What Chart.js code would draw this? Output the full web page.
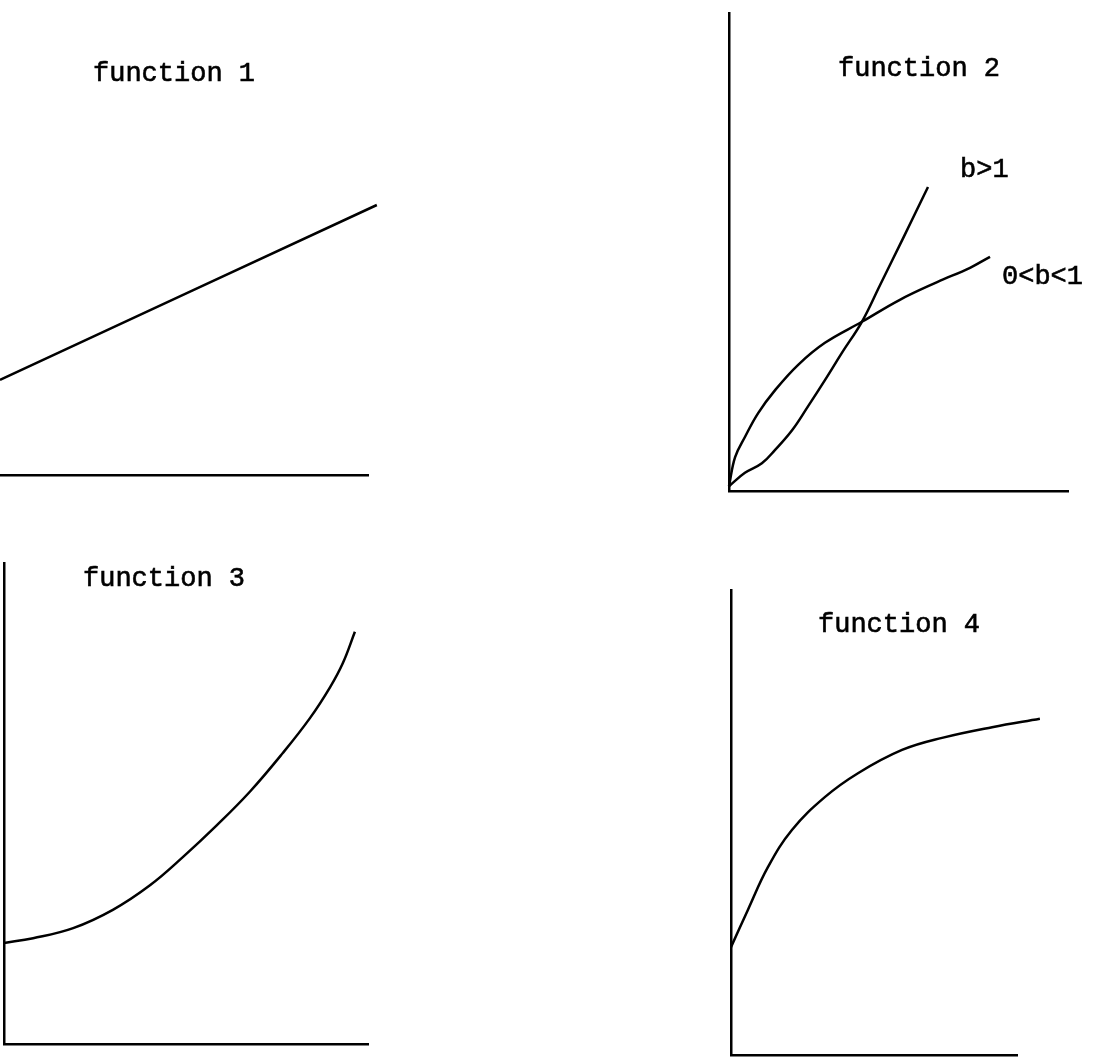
<!DOCTYPE html>
<html>
<head>
<meta charset="utf-8">
<title>functions</title>
<script src="https://cdn.jsdelivr.net/npm/chart.js@4.4.1/dist/chart.umd.min.js"></script>
<style>
  html, body { margin: 0; padding: 0; background: #fff; }
  #page { position: relative; width: 1107px; height: 1064px; overflow: hidden; }
  #page canvas { position: absolute; left: 0; top: 0; }
  .lbl { position: absolute; font-family: "Liberation Mono", monospace; font-size: 27px; line-height: 27px; color: #000; white-space: pre; -webkit-text-stroke: 0.6px #000; }
</style>
</head>
<body>
<div id="page">
  <canvas id="c1" width="1107" height="1064"></canvas>
  <canvas id="c2" width="1107" height="1064"></canvas>
  <canvas id="c3" width="1107" height="1064"></canvas>
  <canvas id="c4" width="1107" height="1064"></canvas>
  <div class="lbl" style="left:93px;top:61px">function 1</div>
  <div class="lbl" style="left:838px;top:56px">function 2</div>
  <div class="lbl" style="left:83px;top:566px">function 3</div>
  <div class="lbl" style="left:818px;top:612px">function 4</div>
  <div class="lbl" style="left:960px;top:157px">b&gt;1</div>
  <div class="lbl" style="left:1002px;top:264px">0&lt;b&lt;1</div>
</div>
<script>
// all panels use 0..10 on both axes (no ticks shown)

// function 1: straight line
const f1X = [0, 10.24];
const f1Y = [2.64, 7.5];

// function 2: b>1 curve
const f2aX = [0, 0.47, 0.97, 1.36, 1.86, 2.33, 2.83, 3.33, 3.92, 4.45, 5.13, 5.87];
const f2aY = [0.1, 0.38, 0.58, 0.86, 1.27, 1.77, 2.32, 2.89, 3.54, 4.30, 5.28, 6.36];

// function 2: 0<b<1 curve
const f2bX = [0, 0.18, 0.47, 0.86, 1.36, 2.04, 2.83, 3.92, 5.04, 6.14, 7.11, 7.70];
const f2bY = [0.1, 0.71, 1.13, 1.63, 2.11, 2.64, 3.10, 3.54, 4.00, 4.37, 4.67, 4.90];

// function 3
const f3X = [0, 0.80, 1.90, 2.99, 4.01, 4.92, 5.85, 6.76, 7.66, 8.41, 8.96, 9.31, 9.64];
const f3Y = [2.10, 2.20, 2.41, 2.79, 3.30, 3.89, 4.55, 5.25, 6.05, 6.78, 7.42, 7.92, 8.57];

// function 4
const f4X = [0, 0.59, 1.29, 2.13, 3.29, 4.44, 5.98, 7.38, 9.13, 10.80];
const f4Y = [2.32, 3.12, 4.04, 4.84, 5.55, 6.06, 6.56, 6.82, 7.05, 7.23];

// plot areas on the page: left, top, right, bottom
const areas = {
  c1: [0, 115, 368, 475],
  c2: [729, 13, 1068, 491],
  c3: [4, 563, 368, 1044],
  c4: [731, 590, 1017, 1055]
};

function pts(xs, ys) {
  return xs.map((x, i) => ({ x: x, y: ys[i] }));
}

function makeChart(id, series, showY, endDot) {
  const [l, t, r, b] = areas[id];
  return new Chart(document.getElementById(id), {
    type: 'line',
    data: {
      datasets: series.map(d => ({
        data: d,
        borderColor: '#000',
        backgroundColor: '#000',
        borderWidth: 2.5,
        pointRadius: ctx => (endDot && ctx.dataIndex === d.length - 1) ? 2 : 0,
        tension: 0.4,
        fill: false,
        clip: false
      }))
    },
    options: {
      responsive: false,
      animation: false,
      events: [],
      layout: { padding: { left: l, top: t, right: 1107 - r, bottom: 1064 - b } },
      plugins: { legend: { display: false }, tooltip: { enabled: false } },
      scales: {
        x: {
          type: 'linear', min: 0, max: 10,
          grid: { display: false }, ticks: { display: false },
          border: { display: true, color: '#000', width: 2.5 },
          afterFit: s => { s.height = 0; }
        },
        y: {
          type: 'linear', min: 0, max: 10,
          grid: { display: false }, ticks: { display: false },
          border: { display: showY, color: '#000', width: 2.5 },
          afterFit: s => { s.width = 0; }
        }
      }
    }
  });
}

makeChart('c1', [pts(f1X, f1Y)], false, false);
makeChart('c2', [pts(f2aX, f2aY), pts(f2bX, f2bY)], true, false);
makeChart('c3', [pts(f3X, f3Y)], true, false);
makeChart('c4', [pts(f4X, f4Y)], true, true);
</script>
</body>
</html>
